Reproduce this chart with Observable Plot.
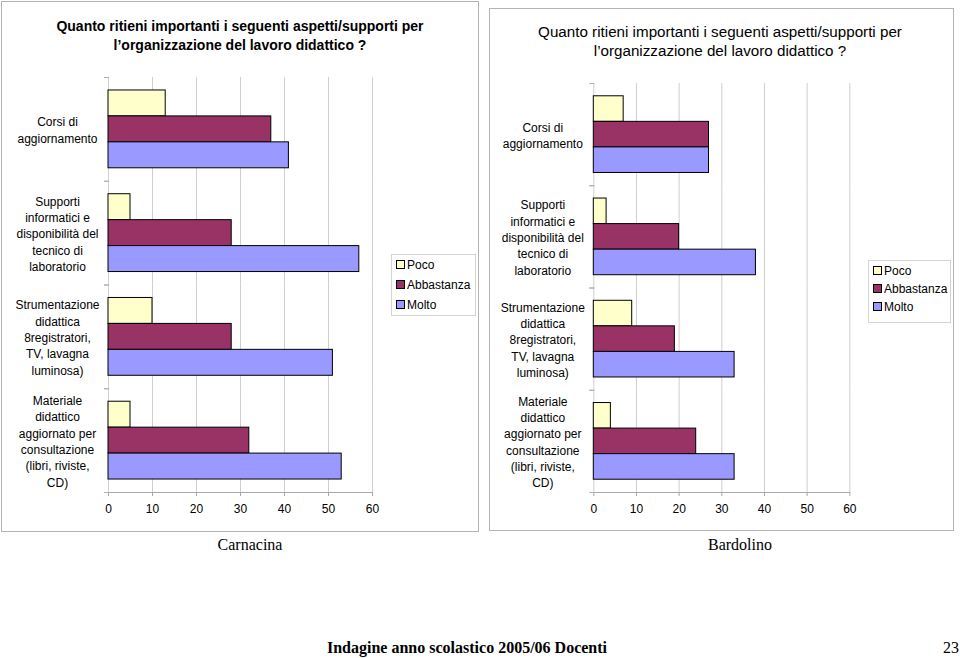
<!DOCTYPE html>
<html>
<head>
<meta charset="utf-8">
<script src="https://cdn.jsdelivr.net/npm/d3@7"></script>
<script src="https://cdn.jsdelivr.net/npm/@observablehq/plot@0.6"></script>
<style>
  html, body { margin: 0; padding: 0; background: #fff; }
  #page { position: relative; width: 960px; height: 658px; overflow: hidden; font-family: "Liberation Sans", Arial, sans-serif; }
  .panel { position: absolute; border: 1px solid #b4b4b4; box-sizing: border-box; }
  .title { position: absolute; text-align: center; color: #000; line-height: 19px; white-space: nowrap; }
  .chart { position: absolute; top: 0; }
  .chart svg text { fill: #000; }
  .legend { position: absolute; border: 1px solid #d4d4d4; background: #fff; font-size: 12px; box-sizing: border-box; }
  .legend .item { position: absolute; left: 4px; height: 14px; line-height: 14px; white-space: nowrap; }
  .legend .sw { display: inline-block; width: 7px; height: 7px; border: 1px solid #000; margin-right: 2px; vertical-align: 0px; }
  .serif { position: absolute; font-family: "Liberation Serif", "Times New Roman", serif; color: #000; white-space: nowrap; }
</style>
</head>
<body>
<div id="page">
  <div class="panel" style="left:1px;top:1px;width:478px;height:531px;"></div>
  <div class="panel" style="left:489px;top:8px;width:465px;height:523px;"></div>
  <div class="title" style="left:20px;width:440px;top:17px;font-size:14px;font-weight:bold;">Quanto ritieni importanti i seguenti aspetti/supporti per<br>l’organizzazione del lavoro didattico ?</div>
  <div class="title" style="left:500px;width:440px;top:22px;font-size:15.2px;">Quanto ritieni importanti i seguenti aspetti/supporti per<br>l’organizzazione del lavoro didattico ?</div>
  <div class="chart" id="left" style="left:0px;"></div>
  <div class="chart" id="right" style="left:480px;"></div>
  <div class="legend" id="legL" style="left:391px;top:254px;width:85px;height:62px;"></div>
  <div class="legend" id="legR" style="left:868px;top:260px;width:83px;height:63px;"></div>
  <div class="serif" style="left:250px;top:545px;transform:translate(-50%,-50%);font-size:16px;">Carnacina</div>
  <div class="serif" style="left:740px;top:545px;transform:translate(-50%,-50%);font-size:16px;">Bardolino</div>
  <div class="serif" style="left:467px;top:648px;transform:translate(-50%,-50%);font-size:16px;font-weight:bold;">Indagine anno scolastico 2005/06 Docenti</div>
  <div class="serif" style="left:951px;top:648px;transform:translate(-50%,-50%);font-size:16px;">23</div>
</div>
<script>
const categories = [
  "Corsi di aggiornamento",
  "Supporti informatici",
  "Strumentazione didattica",
  "Materiale didattico"
];
const categoryLabels = [
  "Corsi di\naggiornamento",
  "Supporti\ninformatici e\ndisponibilità del\ntecnico di\nlaboratorio",
  "Strumentazione\ndidattica\n8registratori,\nTV, lavagna\nluminosa)",
  "Materiale\ndidattico\naggiornato per\nconsultazione\n(libri, riviste,\nCD)"
];
const series = ["Poco", "Abbastanza", "Molto"];
const seriesColors = ["#FFFFCC", "#993366", "#9999FF"];
const xTicks = [0, 10, 20, 30, 40, 50, 60];

const carnacinaPoco = [13, 5, 10, 5];
const carnacinaAbbastanza = [37, 28, 28, 32];
const carnacinaMolto = [41, 57, 51, 53];

const bardolinoPoco = [7, 3, 9, 4];
const bardolinoAbbastanza = [27, 20, 19, 24];
const bardolinoMolto = [27, 38, 33, 33];

function toRows(poco, abb, molto) {
  const rows = [];
  categories.forEach((c, i) => {
    rows.push({category: c, series: "Poco", value: poco[i]});
    rows.push({category: c, series: "Abbastanza", value: abb[i]});
    rows.push({category: c, series: "Molto", value: molto[i]});
  });
  return rows;
}

function makeChart(rows, marginLeft, marginRight, marginTop) {
  const frameWidth = 480 - marginLeft - marginRight;
  return Plot.plot({
    width: 480,
    height: 530,
    marginLeft, marginRight, marginTop,
    marginBottom: 38,
    style: {color: "#a8a8a8", background: "transparent", fontFamily: "'Liberation Sans', Arial, sans-serif", fontSize: "12px", overflow: "visible"},
    x: {domain: [0, 60], ticks: xTicks, tickSize: 4, tickPadding: 8, line: true, label: null},
    y: {domain: series, axis: null, paddingInner: 0, paddingOuter: 0.5, round: false},
    fy: {domain: categories, axis: null, padding: 0, round: false},
    color: {domain: series, range: seriesColors},
    marks: [
      Plot.ruleX(xTicks, {stroke: "#cfcfcf"}),
      Plot.frame({anchor: "top", stroke: "#b0b0b0", insetLeft: -4, insetRight: frameWidth}),
      Plot.frame({anchor: "bottom", stroke: "#b0b0b0", insetLeft: -4, insetRight: frameWidth}),
      Plot.barX(rows, {fy: "category", y: "series", x: "value", fill: "series", stroke: "#000", strokeWidth: 1}),
      Plot.text(categories, {fy: d => d, text: (d, i) => categoryLabels[i], frameAnchor: "left", dx: -51, textAnchor: "middle", lineHeight: 1.36, fill: "#000", fontSize: 12})
    ]
  });
}

document.getElementById("left").appendChild(
  makeChart(toRows(carnacinaPoco, carnacinaAbbastanza, carnacinaMolto), 108, 108, 77));
document.getElementById("right").appendChild(
  makeChart(toRows(bardolinoPoco, bardolinoAbbastanza, bardolinoMolto), 113.3, 110.7, 83));

function legend(id, gap) {
  const el = document.getElementById(id);
  series.forEach((s, i) => {
    const d = document.createElement("div");
    d.className = "item";
    d.style.top = (3 + i * gap) + "px";
    d.innerHTML = `<span class="sw" style="background:${seriesColors[i]}"></span>${s}`;
    el.appendChild(d);
  });
}
legend("legL", 20);
legend("legR", 18);
</script>
</body>
</html>
